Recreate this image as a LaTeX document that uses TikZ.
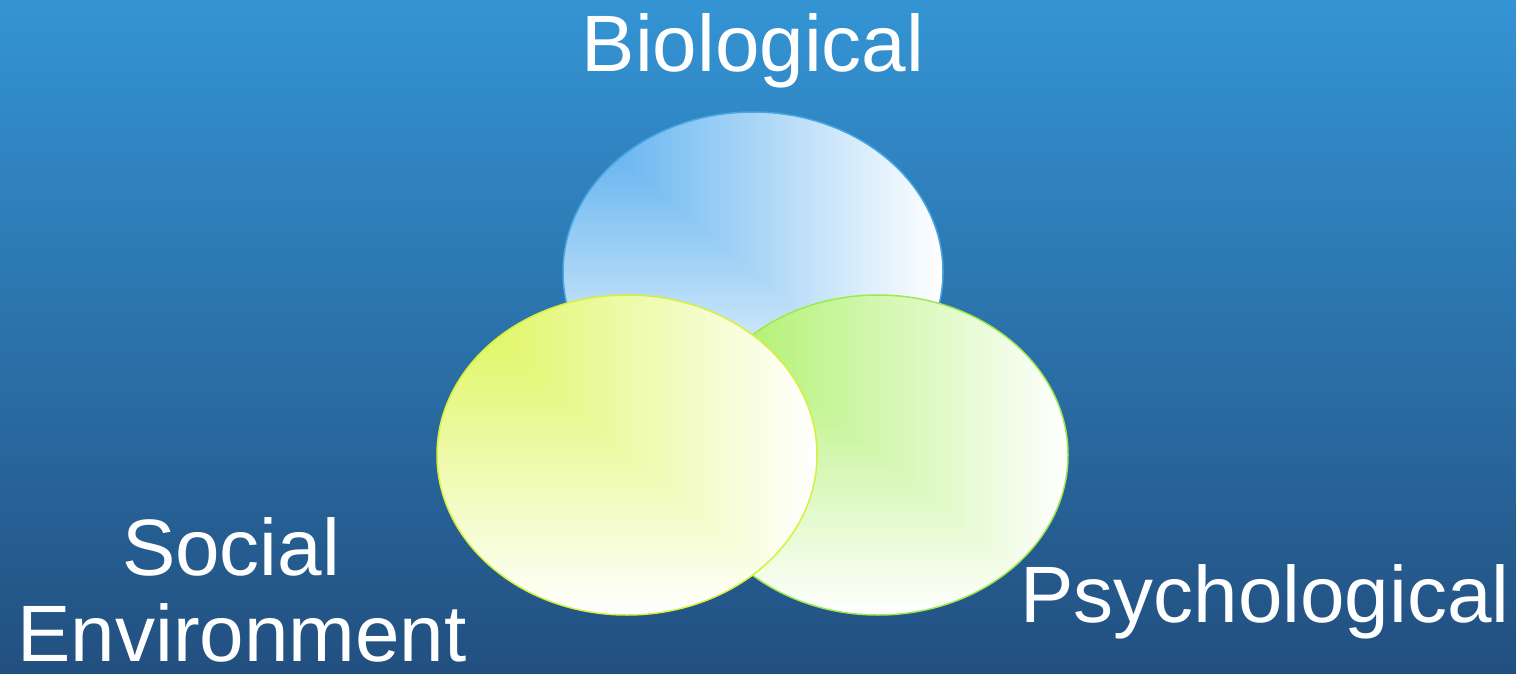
\documentclass[tikz,border=0pt]{standalone}
\usepackage{fontspec}
\setmainfont{Liberation Sans}
\definecolor{bgtop}{HTML}{3494D4}
\definecolor{bgbot}{HTML}{224F80}
\definecolor{biofill}{HTML}{52ABEE}
\definecolor{bioline}{HTML}{45A6E2}
\definecolor{socfill}{HTML}{DCF552}
\definecolor{socline}{HTML}{D6F03C}
\definecolor{psyfill}{HTML}{A6EF5E}
\definecolor{psyline}{HTML}{9FE84E}
\tikzset{
  lbl/.style={text=white, inner sep=0pt, anchor=base, font=\fontsize{80}{88}\selectfont},
}
% #1 center x, #2 center y, #3 fill color, #4 line color, #5 name
\newcommand{\gradellipse}[5]{%
  \begin{scope}
    \clip (#1,#2) ellipse [x radius=190, y radius=160];
    \shade[left color=#3, right color=white]
      (#1-190,#2-160) rectangle (#1+190,#2+160);
    \shade[top color=#3, bottom color=white]
      (#1-190,#2-160) -- (#1-190,#2+160) -- (#1+190,#2+160) -- cycle;
  \end{scope}
  \node[draw=#4, line width=1.5pt, ellipse, minimum width=380pt, minimum height=320pt, inner sep=0pt] (#5) at (#1,#2) {};
}
\usetikzlibrary{shapes.geometric}
\begin{document}
\begin{tikzpicture}[x=1pt,y=-1pt]
  \shade[top color=bgtop, bottom color=bgbot] (0,0) rectangle (1516,674);
  \useasboundingbox (0,0) rectangle (1516,674);
  \gradellipse{753}{272}{biofill}{bioline}{bio}
  \gradellipse{878}{455}{psyfill}{psyline}{psy}
  \gradellipse{627}{455}{socfill}{socline}{soc}
  \node[lbl] (biolbl) at (753,72) {Biological};
  \node[lbl] (psylbl) at (1265,622) {Psychological};
  \node[lbl] (soclbl) at (231,575) {Social};
  \node[lbl] (envlbl) at (242,661) {Environment};
\end{tikzpicture}
\end{document}
